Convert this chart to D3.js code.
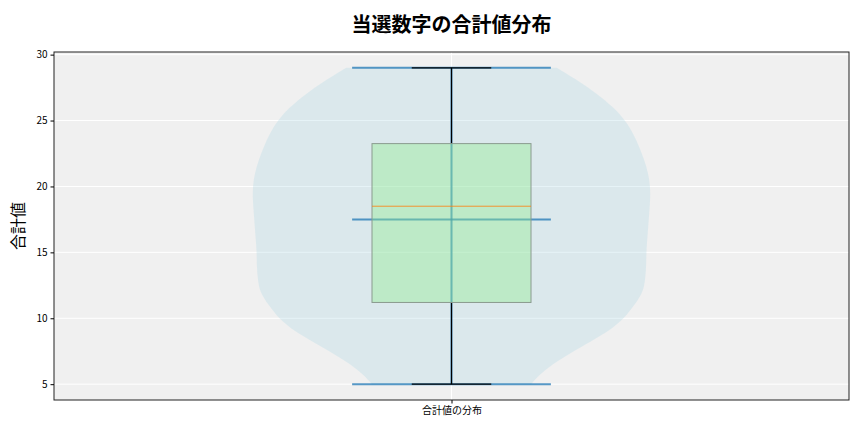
<!DOCTYPE html>
<html>
<head>
<meta charset="utf-8">
<script src="https://cdn.jsdelivr.net/npm/d3@7"></script>
<style>
  body { margin: 0; background: #fff; }
  svg text { font-family: "Noto Sans CJK JP", "Noto Sans", sans-serif; fill: #000; }
</style>
</head>
<body>
<div id="chart"></div>
<script>
// values
var sums = [5, 6, 7, 8, 9, 10, 11, 12, 13, 14, 15, 16, 17, 18, 19, 20, 21, 22, 23, 24, 25, 26, 27, 28, 29];
var density = [0.40, 0.46, 0.56, 0.67, 0.79, 0.87, 0.92, 0.965, 0.975, 0.98, 0.98, 0.985, 0.99, 0.995, 1.0, 1.0, 0.99, 0.97, 0.945, 0.915, 0.875, 0.815, 0.735, 0.64, 0.53];
var boxStats = { min: 5, q1: 11.2, median: 18.5, q3: 23.25, max: 29 };
var meanValue = 17.5;
var categories = ["合計値の分布"];
var yTicks = [5, 10, 15, 20, 25, 30];

var W = 864, H = 432;
var margin = { top: 52, right: 15, bottom: 32, left: 54 };
var iw = W - margin.left - margin.right,
    ih = H - margin.top - margin.bottom;

var svg = d3.select("#chart").append("svg")
    .attr("width", W)
    .attr("height", H);

var x = d3.scaleLinear().domain([-1.25, 1.25]).range([0, iw]);
var y = d3.scaleLinear().domain([3.8, 30.2]).range([ih, 0]);

var g = svg.append("g")
    .attr("transform", "translate(" + margin.left + "," + margin.top + ")");

g.append("rect")
    .attr("width", iw)
    .attr("height", ih)
    .attr("fill", "#f0f0f0");

// grid
g.selectAll(".ygrid").data(yTicks).enter()
    .append("line")
    .attr("x1", 0).attr("x2", iw)
    .attr("y1", function(d) { return y(d); })
    .attr("y2", function(d) { return y(d); })
    .attr("stroke", "#fff")
    .attr("stroke-width", 1);
g.append("line")
    .attr("x1", x(0)).attr("x2", x(0))
    .attr("y1", 0).attr("y2", ih)
    .attr("stroke", "#fff")
    .attr("stroke-width", 1);

// violin
var halfW = 0.625;
var pts = sums.map(function(s, i) { return { v: s, d: density[i] }; });
var area = d3.area()
    .y(function(d) { return y(d.v); })
    .x0(function(d) { return x(-halfW * d.d); })
    .x1(function(d) { return x(halfW * d.d); })
    .curve(d3.curveBasis);
g.append("path")
    .datum(pts)
    .attr("d", area)
    .attr("fill", "#add8e6")
    .attr("fill-opacity", 0.3);

var c0 = "#1f77b4";
var ext = 0.3125;
// violin bars, extrema, mean
g.append("line")
    .attr("x1", x(0)).attr("x2", x(0))
    .attr("y1", y(boxStats.min)).attr("y2", y(boxStats.max))
    .attr("stroke", c0).attr("stroke-opacity", 0.75).attr("stroke-width", 2);
[boxStats.min, boxStats.max, meanValue].forEach(function(v) {
    g.append("line")
        .attr("x1", x(-ext)).attr("x2", x(ext))
        .attr("y1", y(v)).attr("y2", y(v))
        .attr("stroke", c0).attr("stroke-opacity", 0.75).attr("stroke-width", 2);
});

// box plot
var bw = 0.25, cap = 0.125;
g.append("line")
    .attr("x1", x(0)).attr("x2", x(0))
    .attr("y1", y(boxStats.q3)).attr("y2", y(boxStats.max))
    .attr("stroke", "#000").attr("stroke-width", 1.2);
g.append("line")
    .attr("x1", x(0)).attr("x2", x(0))
    .attr("y1", y(boxStats.q1)).attr("y2", y(boxStats.min))
    .attr("stroke", "#000").attr("stroke-width", 1.2);
[boxStats.min, boxStats.max].forEach(function(v) {
    g.append("line")
        .attr("x1", x(-cap)).attr("x2", x(cap))
        .attr("y1", y(v)).attr("y2", y(v))
        .attr("stroke", "#000").attr("stroke-width", 1.2);
});
g.append("rect")
    .attr("x", x(-bw))
    .attr("y", y(boxStats.q3))
    .attr("width", x(bw) - x(-bw))
    .attr("height", y(boxStats.q1) - y(boxStats.q3))
    .attr("fill", "#90ee90")
    .attr("fill-opacity", 0.4)
    .attr("stroke", "#8a9a8e")
    .attr("stroke-width", 1);
g.append("line")
    .attr("x1", x(-bw)).attr("x2", x(bw))
    .attr("y1", y(boxStats.median)).attr("y2", y(boxStats.median))
    .attr("stroke", "#ff7f0e").attr("stroke-opacity", 0.8).attr("stroke-width", 1);

// frame
g.append("rect")
    .attr("width", iw)
    .attr("height", ih)
    .attr("fill", "none")
    .attr("stroke", "#222")
    .attr("stroke-width", 1);

// axes
var yAxis = g.append("g")
    .call(d3.axisLeft(y).tickValues(yTicks).tickSize(3.5).tickPadding(3));
yAxis.select(".domain").remove();
yAxis.selectAll("text").style("font-size", "10px");

var xAxis = g.append("g")
    .attr("transform", "translate(0," + ih + ")")
    .call(d3.axisBottom(x).tickValues([0]).tickFormat(function() { return categories[0]; }).tickSize(3.5).tickPadding(3));
xAxis.select(".domain").remove();
xAxis.selectAll("text").style("font-size", "10px");

// title and label
svg.append("text")
    .attr("x", margin.left + iw / 2)
    .attr("y", 32)
    .attr("text-anchor", "middle")
    .style("font-size", "20px")
    .style("font-weight", "bold")
    .text("当選数字の合計値分布");

svg.append("text")
    .attr("transform", "translate(24," + (margin.top + ih / 2) + ") rotate(-90)")
    .attr("text-anchor", "middle")
    .style("font-size", "16px")
    .text("合計値");
</script>
</body>
</html>
